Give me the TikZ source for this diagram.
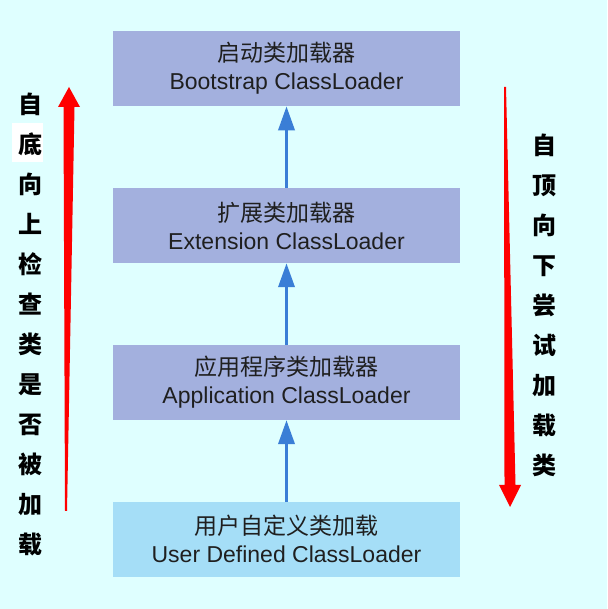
\documentclass[tikz,border=0pt]{standalone}
\usepackage{fontspec}
\setmainfont{Liberation Sans}
\newfontfamily\cjk{Noto Sans CJK SC}
\usepackage{tikz}
\usetikzlibrary{graphs}
\usetikzlibrary{arrows.meta}
\usetikzlibrary{calc}

\definecolor{bgcyan}{HTML}{DFFFFF}
\definecolor{loaderblue}{HTML}{A3B0DE}
\definecolor{userblue}{HTML}{A5DEF7}
\definecolor{arrowblue}{HTML}{3A7ED6}
\definecolor{arrowred}{HTML}{FF0000}

\tikzset{
  loader/.style={fill=loaderblue, minimum width=347pt, minimum height=75pt,
    inner sep=0pt, align=center, text=black!88,
    font=\fontsize{23}{28}\selectfont},
  sidetext/.style={inner sep=0pt, align=center,
    font=\fontsize{24}{40}\selectfont\cjk\bfseries}
}

\begin{document}
\begin{tikzpicture}[x=1pt, y=1pt]
  \fill[bgcyan] (0,0) rectangle (607,609);

  \begin{scope}[shift={(286.5,32)}]
    \graph[grow up sep=81.5pt, nodes={loader},
    edges={draw=arrowblue, line width=3.5pt, -{Triangle[length=24pt,width=16pt]}}] {
    user/"{\cjk 用户自定义类加载}\\User Defined ClassLoader"[fill=userblue]
      -> app/"{\cjk 应用程序类加载器}\\Application ClassLoader"
      -> ext/"{\cjk 扩展类加载器}\\Extension ClassLoader"
      -> boot/"{\cjk 启动类加载器}\\Bootstrap ClassLoader"
    };
  \end{scope}

  % bottom-up check
  \fill[white] (12,447) rectangle (43,486);
  \node[sidetext] (bottomup) at (30,285) {自\\底\\向\\上\\检\\查\\类\\是\\否\\被\\加\\载};
  \coordinate (upfoot) at (66,98);
  \coordinate (uptip) at (69,522);
  \fill[arrowred] (upfoot) ++(-1,0) -- ++(2,0) -- ($(uptip)+(5.5,-20)$) -- ++(5.5,0)
    -- (uptip) -- ++(-11,-20) -- ++(5.5,0) -- cycle;

  % top-down load
  \node[sidetext] (topdown) at (544,304) {自\\顶\\向\\下\\尝\\试\\加\\载\\类};
  \coordinate (downtop) at (505,522);
  \coordinate (downtip) at (510,102);
  \fill[arrowred] (downtop) ++(-1,0) -- ++(2,0) -- ($(downtip)+(5.5,22)$) -- ++(5.5,0)
    -- (downtip) -- ++(-11,22) -- ++(5.5,0) -- cycle;
\end{tikzpicture}
\end{document}
